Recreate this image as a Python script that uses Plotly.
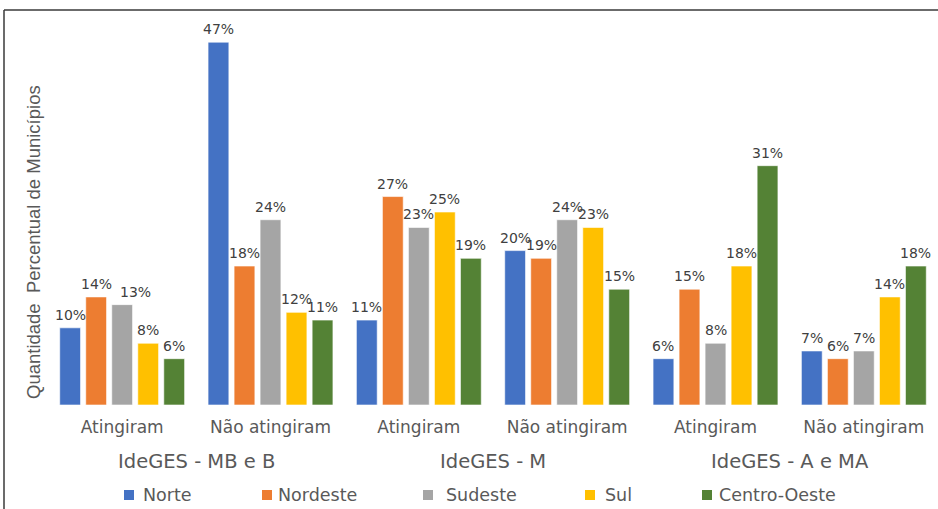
import plotly.graph_objects as go

# Categories
regions = ["Norte", "Nordeste", "Sudeste", "Sul", "Centro-Oeste"]
outcomes = ["Atingiram", "Não atingiram", "Atingiram", "Não atingiram", "Atingiram", "Não atingiram"]
levels = ["IdeGES - MB e B", "IdeGES - M", "IdeGES - A e MA"]

# Percentage of municipalities per region (one value per outcome column)
norte = [10, 47, 11, 20, 6, 7]
nordeste = [14, 18, 27, 19, 15, 6]
sudeste = [13, 24, 23, 24, 8, 7]
sul = [8, 12, 25, 23, 18, 14]
centro_oeste = [6, 11, 19, 15, 31, 18]

series = [norte, nordeste, sudeste, sul, centro_oeste]
colors = ["#4472C4", "#ED7D31", "#A5A5A5", "#FFC000", "#548235"]

W, H = 938, 509
ML, MR, MT, MB = 48, 0, 10, 104
PW, PH = W - ML - MR, H - MT - MB
PX_PER_PCT = 7.72
BARGAP, BARGROUPGAP = 0.123, 0.2

# a label nudged sideways so it does not collide with its neighbour
label_nudge = {(2, 0): 13}


def px_x(p):
    return (p - ML) / PW


def px_y(p):
    return (H - MB - p) / PH


xs = list(range(len(outcomes)))
n_series = len(series)
slot = (1 - BARGAP) / n_series

fig = go.Figure()
annotations = []
for k, (name, vals, col) in enumerate(zip(regions, series, colors)):
    fig.add_trace(go.Bar(
        x=xs, y=vals, name=name,
        marker=dict(color=col, line=dict(color="rgba(255,255,255,0.6)", width=1)),
        showlegend=False,
    ))
    # value labels above each bar
    for i, v in enumerate(vals):
        annotations.append(dict(
            x=xs[i] - (1 - BARGAP) / 2 + slot * (k + 0.5), xref="x",
            y=v, yref="y", text=f"{v}%", showarrow=False,
            xanchor="center", yanchor="bottom", yshift=3,
            xshift=label_nudge.get((k, i), 0),
            font=dict(family="DejaVu Sans", size=14, color="#404040"),
        ))

# second-level category labels
for i, lv in enumerate(levels):
    annotations.append(dict(
        x=2 * i + 0.5, xref="x", y=px_y(461), yref="paper",
        text=lv, showarrow=False, xanchor="center", yanchor="middle",
        font=dict(family="DejaVu Sans", size=19.5, color="#595959"),
    ))

# vertical axis title
annotations.append(dict(
    x=px_x(33), xref="paper", y=px_y(242), yref="paper",
    text="Quantidade  Percentual de Municípios", textangle=-90,
    showarrow=False, xanchor="center", yanchor="middle",
    font=dict(family="Liberation Sans", size=18.5, color="#595959"),
))

# legend row: swatch left edges and text left edges, in pixels
swatch_left = [124, 262, 423, 585, 702]
text_left = [141, 276, 444, 603, 717]
shapes = []
for name, col, sx, tx in zip(regions, colors, swatch_left, text_left):
    shapes.append(dict(
        type="rect", xref="paper", yref="paper",
        x0=px_x(sx), x1=px_x(sx + 10), y0=px_y(500), y1=px_y(490),
        fillcolor=col, line=dict(width=0),
    ))
    annotations.append(dict(
        x=px_x(tx), xref="paper", y=px_y(495), yref="paper",
        text=name, showarrow=False, xanchor="left", yanchor="middle",
        font=dict(family="DejaVu Sans", size=17.5, color="#595959"),
    ))

# frame lines
shapes.append(dict(type="line", xref="paper", yref="paper",
                   x0=px_x(4), x1=px_x(W + 2), y0=px_y(10), y1=px_y(10),
                   line=dict(color="#3a3a3a", width=1.5)))
shapes.append(dict(type="line", xref="paper", yref="paper",
                   x0=px_x(4), x1=px_x(4), y0=px_y(10), y1=px_y(H + 2),
                   line=dict(color="#3a3a3a", width=1.5)))

fig.update_layout(
    width=W, height=H,
    margin=dict(l=ML, r=MR, t=MT, b=MB),
    paper_bgcolor="white", plot_bgcolor="white",
    barmode="group", bargap=BARGAP, bargroupgap=BARGROUPGAP,
    xaxis=dict(
        range=[-0.5, len(outcomes) - 0.5],
        tickmode="array", tickvals=xs, ticktext=outcomes,
        showgrid=False, zeroline=False, showline=False, ticks="",
        ticklabelstandoff=10,
        tickfont=dict(family="DejaVu Sans", size=17, color="#595959"),
    ),
    yaxis=dict(range=[0, PH / PX_PER_PCT], visible=False),
    annotations=annotations,
    shapes=shapes,
)

fig.write_html("out.html")
